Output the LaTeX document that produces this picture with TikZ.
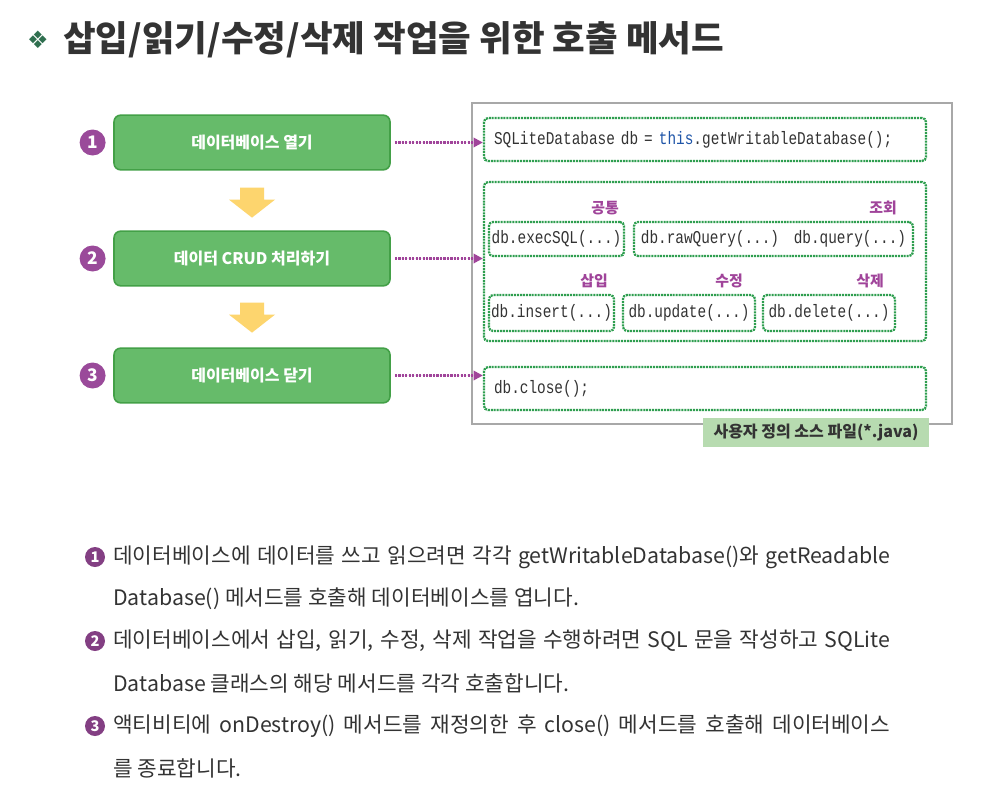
\documentclass[tikz,border=0pt]{standalone}
\usepackage{fontspec}
\setmainfont{Noto Sans CJK KR}
\setmonofont[FakeStretch=0.8]{Liberation Mono}
\newfontfamily\symfont{DejaVu Sans}
\usepackage{xcolor}
\usetikzlibrary{arrows,arrows.meta,positioning}

\definecolor{boxgreen}{HTML}{66BB6A}
\definecolor{boxedge}{HTML}{43A047}
\definecolor{dotgreen}{HTML}{2E9E4F}
\definecolor{numpurple}{HTML}{9A4A9A}
\definecolor{tagpurple}{HTML}{A0449A}
\definecolor{arrowyellow}{HTML}{FDD56E}
\definecolor{framegray}{HTML}{A8A8A8}
\definecolor{labelgreen}{HTML}{B7DBB0}
\definecolor{textgray}{HTML}{333333}
\definecolor{codeblue}{HTML}{1F55A8}
\definecolor{markgreen}{HTML}{2F6F4F}

\begin{document}
\begin{tikzpicture}[
        x=0.75pt, y=-0.75pt,
        stepbox/.style={rectangle, draw=boxedge, line width=1.2pt, fill=boxgreen, rounded corners=5pt, minimum width=207pt, minimum height=41pt, text=white, font=\bfseries\fontsize{12}{14}\selectfont},
        num/.style={circle, fill=numpurple, minimum size=19.5pt, inner sep=0pt, text=white, font=\bfseries\fontsize{13}{13}\selectfont},
        bullet/.style={circle, fill=numpurple!85!black, minimum size=15pt, inner sep=0pt, text=white, font=\bfseries\fontsize{11}{11}\selectfont},
        codebox/.style={rectangle, draw=dotgreen, line width=1.7pt, dash pattern=on 1.5pt off 0.7pt, rounded corners=3pt, inner sep=1pt},
        code/.style={font=\ttfamily\fontsize{13.5}{16}\selectfont, text=textgray},
        tag/.style={font=\bfseries\fontsize{11.2}{13}\selectfont, text=tagpurple},
        dotarrow/.style={-{Triangle[length=7pt,width=7pt]}, draw=tagpurple, fill=tagpurple, line width=1.7pt, dash pattern=on 1.7pt off 0.9pt},
        blockarrow/.style={fill=arrowyellow},
        srcframe/.style={rectangle, draw=framegray, line width=1.2pt, minimum width=360pt, minimum height=240.75pt},
        filelabel/.style={rectangle, fill=labelgreen, minimum width=169.5pt, minimum height=21.75pt, text=textgray, font=\bfseries\fontsize{12}{14}\selectfont},
        bodytext/.style={anchor=west, inner sep=0pt, text=textgray, font=\fontsize{16}{19}\selectfont}
    ]
    \useasboundingbox[fill=white] (0,0) rectangle (986,808);

    % Title
    \node[text=markgreen, font=\symfont\fontsize{18}{18}\selectfont] (mark) at (38,40) {❖};
    \node[anchor=west, inner sep=0pt, text=textgray, font=\bfseries\fontsize{26.6}{30}\selectfont] (title) at (63,40) {삽입/읽기/수정/삭제 작업을 위한 호출 메서드};

    % Steps
    \node[stepbox] (open) at (252,142.5) {데이터베이스 열기};
    \node[stepbox] (crud) at (252,258.5) {데이터 CRUD 처리하기};
    \node[stepbox] (close) at (252,375.5) {데이터베이스 닫기};
    \node[num, left=5.5pt of open] (n1) {1};
    \node[num, left=5.5pt of crud] (n2) {2};
    \node[num, left=5.5pt of close] (n3) {3};

    \fill[blockarrow] (open.south) ++(-12,17) -- ++(24,0) -- ++(0,12) -- ++(11,0) -- ++(-23,18) -- ++(-23,-18) -- ++(11,0) -- cycle;
    \fill[blockarrow] (crud.south) ++(-12,16) -- ++(24,0) -- ++(0,12) -- ++(11,0) -- ++(-23,18) -- ++(-23,-18) -- ++(11,0) -- cycle;

    % Source file
    \node[srcframe] (src) at (712,263.5) {};
    \node[codebox, code, minimum width=331.5pt, minimum height=32.25pt, text width=316.5pt, inner xsep=7.5pt, align=left] (sqlopen) at (705,139.5) {SQLiteDatabase db = \textcolor{codeblue}{this}.getWritableDatabase();};
    \node[codebox, minimum width=331.5pt, minimum height=119.25pt] (sqlcrud) at (705,261.5) {};
    \node[codebox, code, minimum width=331.5pt, minimum height=32.25pt, text width=316.5pt, inner xsep=7.5pt, align=left] (sqlclose) at (705,388.5) {db.close();};

    \node[codebox, code, minimum width=101.25pt, minimum height=25.5pt] (execsql) at (556.5,239) {db.execSQL(...)};
    \node[codebox, code, minimum width=209.25pt, minimum height=25.5pt] (queries) at (773.5,239) {db.rawQuery(...)\hspace{11pt}db.query(...)};
    \node[codebox, code, minimum width=93.75pt, minimum height=27pt] (insert) at (551.5,313) {db.insert(...)};
    \node[codebox, code, minimum width=99pt, minimum height=27pt] (update) at (689,313) {db.update(...)};
    \node[codebox, code, minimum width=99pt, minimum height=27pt] (delete) at (829,313) {db.delete(...)};

    \node[tag] (common) at (605,208) {공통};
    \node[tag] (select) at (883,208) {조회};
    \node[tag] (ins) at (594,281) {삽입};
    \node[tag] (upd) at (729,281) {수정};
    \node[tag] (del) at (870,281) {삭제};

    \node[filelabel] (file) at (816,432.5) {사용자 정의 소스 파일(*.java)};

    % Calls
    \draw[dotarrow] ([xshift=3pt]open.east) -- (open.east -| sqlopen.west);
    \draw[dotarrow] ([xshift=3pt]crud.east) -- (crud.east -| sqlcrud.west);
    \draw[dotarrow] ([xshift=3pt]close.east) -- (close.east -| sqlclose.west);

    % Notes
    \node[bullet] (b1) at (95,557) {1};
    \node[bodytext] (l1) at (113,557) {\makebox[582.75pt][s]{데이터베이스에 데이터를 쓰고 읽으려면 각각 getWritableDatabase()와 getReadable}};
    \node[bodytext] (l2) at (113,599) {Database() 메서드를 호출해 데이터베이스를 엽니다.};
    \node[bullet] (b2) at (95,641) {2};
    \node[bodytext] (l3) at (113,641) {\makebox[582.75pt][s]{데이터베이스에서 삽입, 읽기, 수정, 삭제 작업을 수행하려면 SQL 문을 작성하고 SQLite}};
    \node[bodytext] (l4) at (113,683) {Database 클래스의 해당 메서드를 각각 호출합니다.};
    \node[bullet] (b3) at (95,726) {3};
    \node[bodytext] (l5) at (113,726) {\makebox[582.75pt][s]{액티비티에 onDestroy() 메서드를 재정의한 후 close() 메서드를 호출해 데이터베이스}};
    \node[bodytext] (l6) at (113,768) {를 종료합니다.};

\end{tikzpicture}
\end{document}
